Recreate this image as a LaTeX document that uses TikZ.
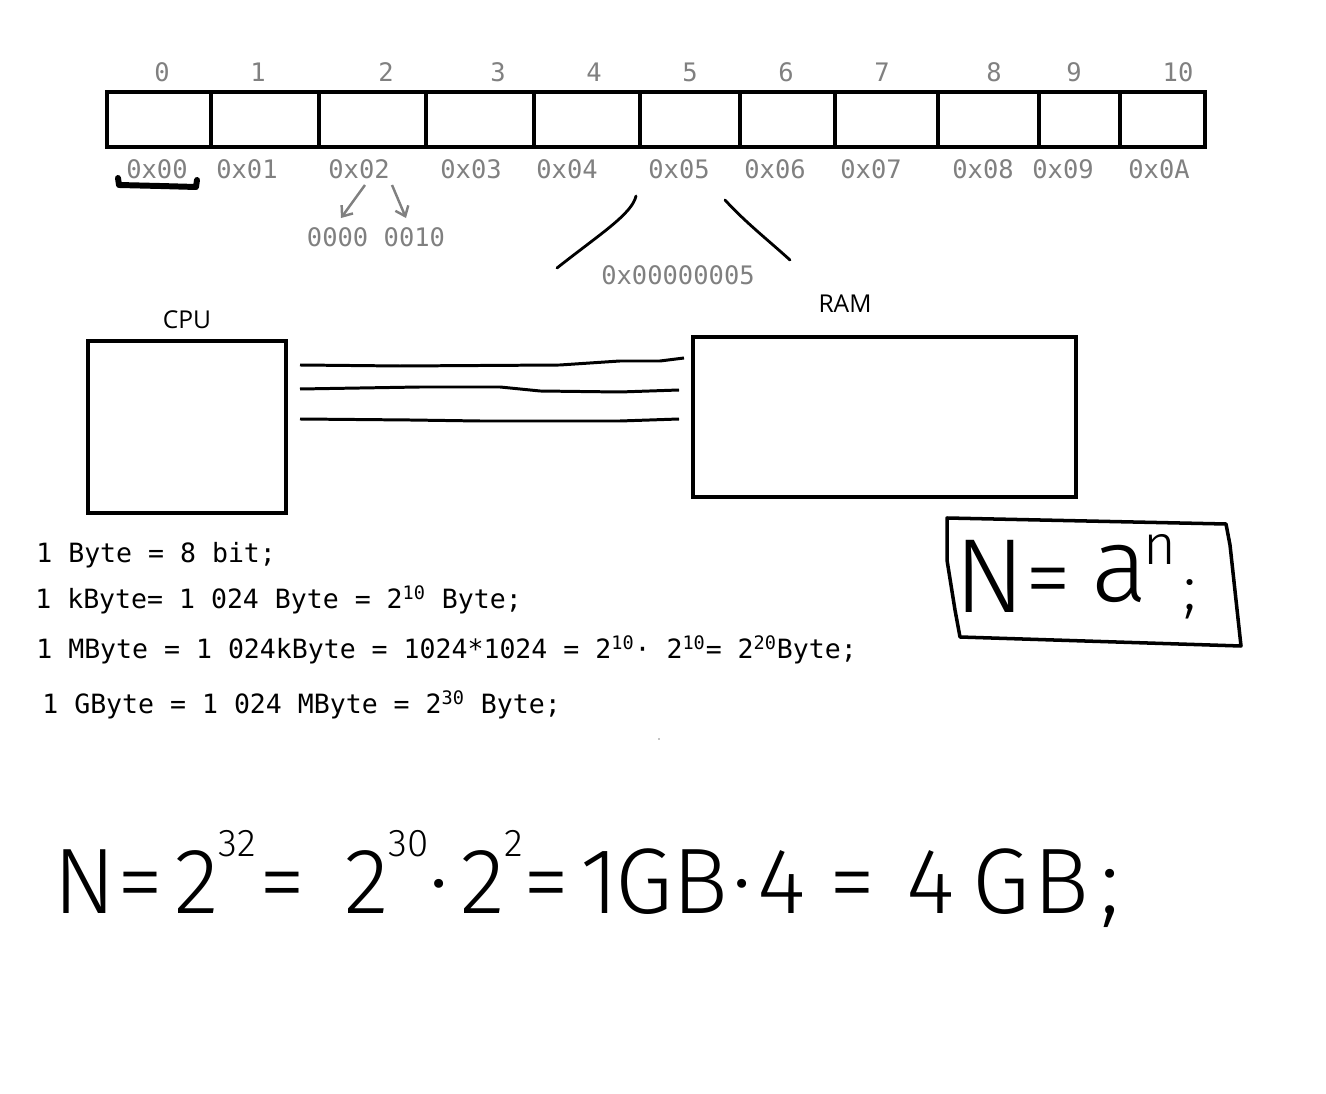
\documentclass[tikz,border=0pt]{standalone}
\usepackage{fontspec}
\usetikzlibrary{calc,arrows.meta}
\newfontfamily\codefont{DejaVu Sans Mono}
\newfontfamily\boxfont{Open Sans}
\newfontfamily\handfont{Fira Sans Light}
\definecolor{labgray}{RGB}{128,128,128}
\newcommand\hsup[1]{\raisebox{32pt}{\fontsize{22}{26}\selectfont #1}}
\tikzset{
  idx/.style={text=labgray, font=\codefont\fontsize{14.5}{17}\selectfont, inner sep=0pt},
  adr/.style={idx},
  note/.style={font=\codefont\fontsize{15.1}{18}\selectfont, inner sep=0pt, anchor=west},
  memline/.style={line width=2.8pt},
  unit/.style={draw, line width=2.3pt, rectangle, inner sep=0pt},
  boxlabel/.style={font=\boxfont\fontsize{14}{16}\selectfont, inner sep=0pt},
  bus/.style={line width=1.7pt},
  bitarrow/.style={draw=labgray, line width=1.4pt, -{Straight Barb[length=5pt,width=8pt]}},
  scribble/.style={line width=1.6pt, line cap=round, line join=round},
  hand/.style={font=\handfont\fontsize{53}{60}\selectfont, inner sep=0pt, anchor=base},
  handsup/.style={font=\handfont\fontsize{32}{36}\selectfont, inner sep=0pt, anchor=base}
}
\begin{document}
\begin{tikzpicture}[x=0.02cm, y=-0.02cm]
\useasboundingbox (0,0) rectangle (1326,1094);

% memory cells
\draw[memline] (107,92) rectangle (1205,147);
\foreach \x in {211,319,426,534,640,740,835,938,1039,1120}
  \draw[memline] (\x,92) -- (\x,147);
\foreach \i/\x in {0/162,1/258,2/386,3/498,4/594,5/690,6/786,7/882,8/994,9/1074,10/1178}
  \node[idx] (idx\i) at (\x,72) {\i};
\foreach \i/\x/\t in {0/157/0x00,1/247/0x01,2/359/0x02,3/471/0x03,4/567/0x04,5/679/0x05,
                      6/775/0x06,7/871/0x07,8/983/0x08,9/1063/0x09,10/1159/0x0A}
  \node[adr] (adr\i) at (\x,169) {\t};
\draw[scribble, line width=3.4pt] (118,178) -- (119,185) -- (160,186) -- (196,187) -- (197,180);

% one byte
\node[adr] (bits) at (376,237) {0000 0010};
\draw[bitarrow] ($(adr2.south)+(6,6)$) -- ($(bits.north)+(-35,-9)$);
\draw[bitarrow] ($(adr2.south)+(33,6)$) -- ($(bits.north)+(30,-9)$);

% full address
\node[adr] (longadr) at (678,275) {0x00000005};
\coordinate (spanl) at (557,268);
\coordinate (spanr) at (790,260);
\draw[scribble] ($(adr5.south)+(-43,17)$) .. controls (632,214) and (600,234) .. (spanl);
\draw[scribble] ($(adr5.south)+(46,21)$) .. controls (745,222) and (768,240) .. (spanr);

% cpu and ram
\node[unit, minimum width=3.96cm, minimum height=3.44cm] (cpu) at (187,427) {};
\node[boxlabel] (cpulab) at (187,320) {CPU};
\node[unit, minimum width=7.66cm, minimum height=3.2cm] (ram) at (884.5,417) {};
\node[boxlabel] (ramlab) at (845,304) {RAM};
\draw[bus] ($(cpu.east)+(12,-62)$) -- (400,366) -- (560,365) -- (620,361) -- (660,361) -- ($(ram.west)+(-7,-59)$);
\draw[bus] ($(cpu.east)+(12,-38)$) -- (420,387) -- (500,387) -- (540,391) -- (620,392) -- ($(ram.west)+(-12,-27)$);
\draw[bus] ($(cpu.east)+(12,-8)$) -- (410,420) -- (480,421) -- (620,421) -- ($(ram.west)+(-12,2)$);

% units
\node[note] (l1) at (36,555) {1 Byte = 8 bit;};
\node[note] (l2) at (35,600) {1 kByte= 1 024 Byte = 2\textsuperscript{10} Byte;};
\node[note] (l3) at (36,650) {1 MByte = 1 024kByte = 1024*1024 = 2\textsuperscript{10}· 2\textsuperscript{10}= 2\textsuperscript{20}Byte;};
\node[note] (l4) at (42,705) {1 GByte = 1 024 MByte = 2\textsuperscript{30} Byte;};
\fill (659,739) circle (0.7);

% formula box
\draw[scribble, line width=2pt] (947,518) -- (1226,524) -- (1230,545) -- (1241,646) -- (960,637)
  -- (955,610) -- (947,560) -- cycle;
\node[hand, font=\handfont\fontsize{60}{66}\selectfont] (fn) at (990,613) {N};
\node[hand] (feq) at (1048,610) {=};
\node[hand, font=\handfont\fontsize{60}{66}\selectfont] (fa) at (1120,602) {a};
\node[handsup] (fexp) at (1160,565) {n};
\node[hand, font=\handfont\fontsize{36}{40}\selectfont] (fsemi) at (1190,610) {;};

% bottom line
\foreach \x/\t [count=\k] in {85/N,140/=,600/1,644/G,700/B,742/·,782/4,852/=,931/4,1001/G,1061/B,1110/;}
  \node[hand] (hw\k) at (\x,913) {\t};
\node[hand, anchor=base west] (pw32) at (174,913) {2\hsup{32}\kern2pt=};
\node[hand, anchor=base west] (pw30) at (344,913) {2\hsup{30}·};
\node[hand, anchor=base west] (pw2) at (460,913) {2\hsup{2}=};
\end{tikzpicture}
\end{document}
